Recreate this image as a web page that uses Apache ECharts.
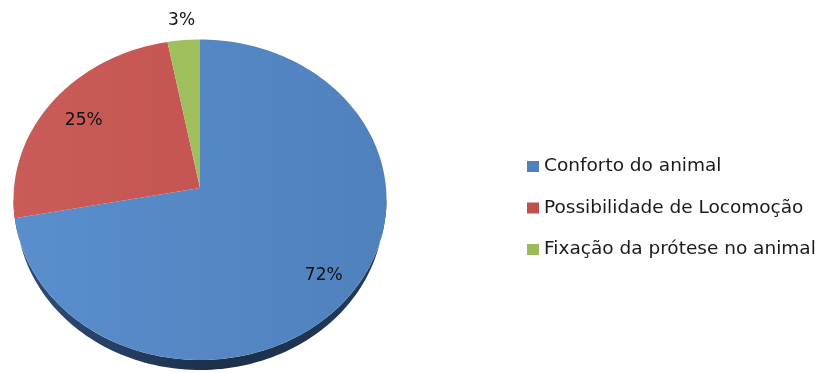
<!DOCTYPE html>
<html>
<head>
<meta charset="utf-8">
<script src="https://cdn.jsdelivr.net/npm/echarts@6/dist/echarts.min.js"></script>
<style>
  html, body { margin: 0; padding: 0; background: #ffffff; }
  #chart { width: 819px; height: 373px; }
</style>
</head>
<body>
<div id="chart"></div>
<script>
// Categories, values (percent) and slice colours
const categories = ['Conforto do animal', 'Possibilidade de Locomoção', 'Fixação da prótese no animal'];
const values = [72, 25, 3];
const colors = ['#4F81BD', '#C0504D', '#9BBB59'];
const lightColors = ['#5A8ECC', '#C95B58', '#A3C362'];
const wallColors = [['#2F4E78', '#1C2F4B', '#223A5C'], ['#7A2E2C', '#6A2826', '#6A2826'], ['#5F7637', '#54692F', '#54692F']];

const total = values.reduce((a, b) => a + b, 0);

// Tilted pie projection (apex, radii, perspective factor, rim depth)
const PIE = { cx: 200, cy: 188, rx: 186, ry: 159.4, k: 0.0733, depth: 10, baseScale: 0.985 };

function project(deg, r, dy, sx) {
  const a = deg * Math.PI / 180;
  const u = r * Math.sin(a);
  const v = -r * Math.cos(a);
  const w = 1 - PIE.k * v;
  return [PIE.cx + PIE.rx * (sx || 1) * u / w, PIE.cy + PIE.ry * v / w + (dy || 0)];
}

function arcPoints(a0, a1, dy, sx) {
  const pts = [];
  const n = Math.max(2, Math.ceil(Math.abs(a1 - a0) / 1.5));
  for (let i = 0; i <= n; i++) pts.push(project(a0 + (a1 - a0) * i / n, 1, dy, sx));
  return pts;
}

function renderSlice(params, api) {
  const i = params.seriesIndex;
  const before = values.slice(0, i).reduce((a, b) => a + b, 0);
  const val = api.value(0);
  const a0 = before / total * 360;
  const a1 = (before + val) / total * 360;
  const children = [];

  // visible front rim of the slice (base edge slightly inset so the sides taper off)
  const w0 = Math.max(a0, 94.2), w1 = Math.min(a1, 265.8);
  if (w1 > w0) {
    const top = arcPoints(w0, w1, 0, 1);
    const bottom = arcPoints(w1, w0, PIE.depth, PIE.baseScale);
    const wc = wallColors[i];
    children.push({
      type: 'polygon',
      z2: 1,
      shape: { points: top.concat(bottom) },
      style: {
        fill: new echarts.graphic.LinearGradient(14, 0, 386, 0, [
          { offset: 0, color: wc[0] },
          { offset: 0.55, color: wc[1] },
          { offset: 1, color: wc[2] }
        ], true)
      }
    });
  }

  // top face
  const face = [[PIE.cx, PIE.cy]].concat(arcPoints(a0, a1, 0, 1));
  children.push({
    type: 'polygon',
    z2: 10,
    shape: { points: face },
    style: {
      fill: new echarts.graphic.LinearGradient(14, 0, 386, 0, [
        { offset: 0, color: lightColors[i] },
        { offset: 1, color: colors[i] }
      ], true)
    }
  });

  // percentage label
  const frac = val / total;
  const mid = (a0 + a1) / 2;
  const pos = frac < 0.05 ? project(mid, 1.14) : project(mid, frac > 0.5 ? 0.83 : 0.78);
  children.push({
    type: 'text',
    z2: 20,
    style: {
      text: Math.round(frac * 100) + '%',
      x: pos[0],
      y: pos[1],
      fill: '#111111',
      fontFamily: 'DejaVu Sans',
      fontSize: 17,
      align: 'center',
      verticalAlign: 'middle'
    }
  });

  return { type: 'group', children: children };
}

const chart = echarts.init(document.getElementById('chart'));
chart.setOption({
  animation: false,
  legend: {
    orient: 'vertical',
    left: 527,
    top: 157,
    padding: 0,
    icon: 'rect',
    itemWidth: 12,
    itemHeight: 11,
    itemGap: 22.5,
    data: categories,
    textStyle: { fontFamily: 'DejaVu Sans', fontSize: 18.5, color: '#1a1a1a' }
  },
  series: categories.map((name, i) => ({
    type: 'custom',
    name: name,
    coordinateSystem: 'none',
    itemStyle: { color: colors[i] },
    renderItem: renderSlice,
    data: [[values[i]]]
  }))
});
</script>
</body>
</html>
